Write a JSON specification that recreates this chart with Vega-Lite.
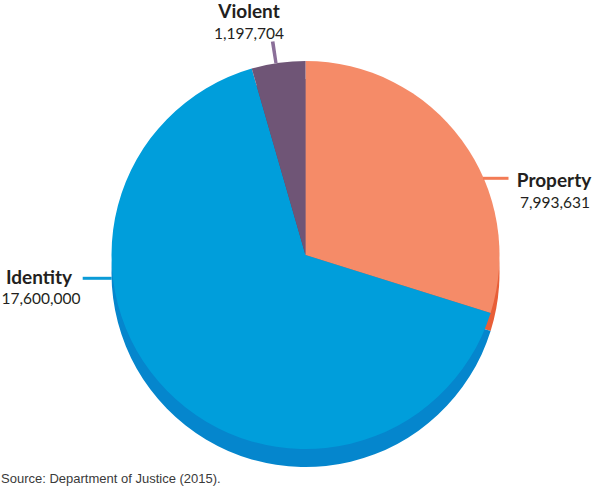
{
  "$schema": "https://vega.github.io/schema/vega-lite/v6.json",
  "width": 577,
  "height": 466,
  "autosize": {"type": "none"},
  "padding": {"left": 17, "top": 22, "right": 0, "bottom": 0},
  "background": "white",
  "config": {"view": {"stroke": null}},
  "title": {
    "text": "Source: Department of Justice (2015).",
    "orient": "bottom",
    "anchor": "start",
    "frame": "group",
    "baseline": "alphabetic",
    "offset": -5,
    "dx": -16,
    "font": "Liberation Sans",
    "fontSize": 13,
    "fontWeight": "normal",
    "color": "#3a3a3a"
  },
  "data": {
    "values": [
      {"category": "Property", "cases": 7993631, "rank": 1},
      {"category": "Identity", "cases": 17600000, "rank": 2},
      {"category": "Violent", "cases": 1197704, "rank": 3}
    ]
  },
  "layer": [
    {
      "mark": {"type": "arc", "radius": 194, "yOffset": 18},
      "encoding": {
        "theta": {"field": "cases", "type": "quantitative", "stack": true},
        "order": {"field": "rank", "type": "quantitative"},
        "color": {
          "field": "category",
          "type": "nominal",
          "scale": {"domain": ["Property", "Identity", "Violent"], "range": ["#E85E37", "#0586CD", "#5a4462"]},
          "legend": null
        }
      }
    },
    {
      "mark": {"type": "arc", "radius": 194},
      "encoding": {
        "theta": {"field": "cases", "type": "quantitative", "stack": true},
        "order": {"field": "rank", "type": "quantitative"},
        "color": {
          "field": "category",
          "type": "nominal",
          "scale": {"domain": ["Property", "Identity", "Violent"], "range": ["#F58B68", "#009EDB", "#6F5576"]},
          "legend": null
        }
      }
    },
    {
      "transform": [{"filter": "datum.category == 'Violent'"}],
      "mark": {"type": "arc", "theta": 6.122, "theta2": 6.139, "radius": 194, "radius2": 216, "color": "#8B6F99"},
      "encoding": {}
    },
    {
      "transform": [{"filter": "datum.category == 'Property'"}],
      "mark": {"type": "rule", "color": "#F37B55", "strokeWidth": 3},
      "encoding": {
        "x": {"value": 466},
        "x2": {"value": 491.5},
        "y": {"value": 156.3}
      }
    },
    {
      "transform": [{"filter": "datum.category == 'Identity'"}],
      "mark": {"type": "rule", "color": "#0B9BD7", "strokeWidth": 3},
      "encoding": {
        "x": {"value": 65.7},
        "x2": {"value": 94.7},
        "y": {"value": 256.3}
      }
    },
    {
      "transform": [{"filter": "datum.category == 'Property'"}],
      "mark": {"type": "text", "font": "Lato", "fontSize": 19, "fontWeight": "bold", "color": "#231F20", "align": "center", "baseline": "alphabetic", "dx": 248.5, "dy": -68.3},
      "encoding": {"text": {"field": "category", "type": "nominal"}}
    },
    {
      "transform": [{"filter": "datum.category == 'Property'"}],
      "mark": {"type": "text", "font": "Lato", "fontSize": 15.5, "color": "#231F20", "align": "center", "baseline": "alphabetic", "dx": 249.5, "dy": -47},
      "encoding": {"text": {"field": "cases", "type": "quantitative", "format": ","}}
    },
    {
      "transform": [{"filter": "datum.category == 'Identity'"}],
      "mark": {"type": "text", "font": "Lato", "fontSize": 19, "fontWeight": "bold", "color": "#231F20", "align": "center", "baseline": "alphabetic", "dx": -266.5, "dy": 29},
      "encoding": {"text": {"field": "category", "type": "nominal"}}
    },
    {
      "transform": [{"filter": "datum.category == 'Identity'"}],
      "mark": {"type": "text", "font": "Lato", "fontSize": 15.5, "color": "#231F20", "align": "center", "baseline": "alphabetic", "dx": -264.5, "dy": 49},
      "encoding": {"text": {"field": "cases", "type": "quantitative", "format": ","}}
    },
    {
      "transform": [{"filter": "datum.category == 'Violent'"}],
      "mark": {"type": "text", "font": "Lato", "fontSize": 19, "fontWeight": "bold", "color": "#231F20", "align": "center", "baseline": "alphabetic", "dx": -56.5, "dy": -237},
      "encoding": {"text": {"field": "category", "type": "nominal"}}
    },
    {
      "transform": [{"filter": "datum.category == 'Violent'"}],
      "mark": {"type": "text", "font": "Lato", "fontSize": 15.5, "color": "#231F20", "align": "center", "baseline": "alphabetic", "dx": -56.5, "dy": -216},
      "encoding": {"text": {"field": "cases", "type": "quantitative", "format": ","}}
    }
  ],
  "resolve": {"scale": {"color": "independent"}}
}
